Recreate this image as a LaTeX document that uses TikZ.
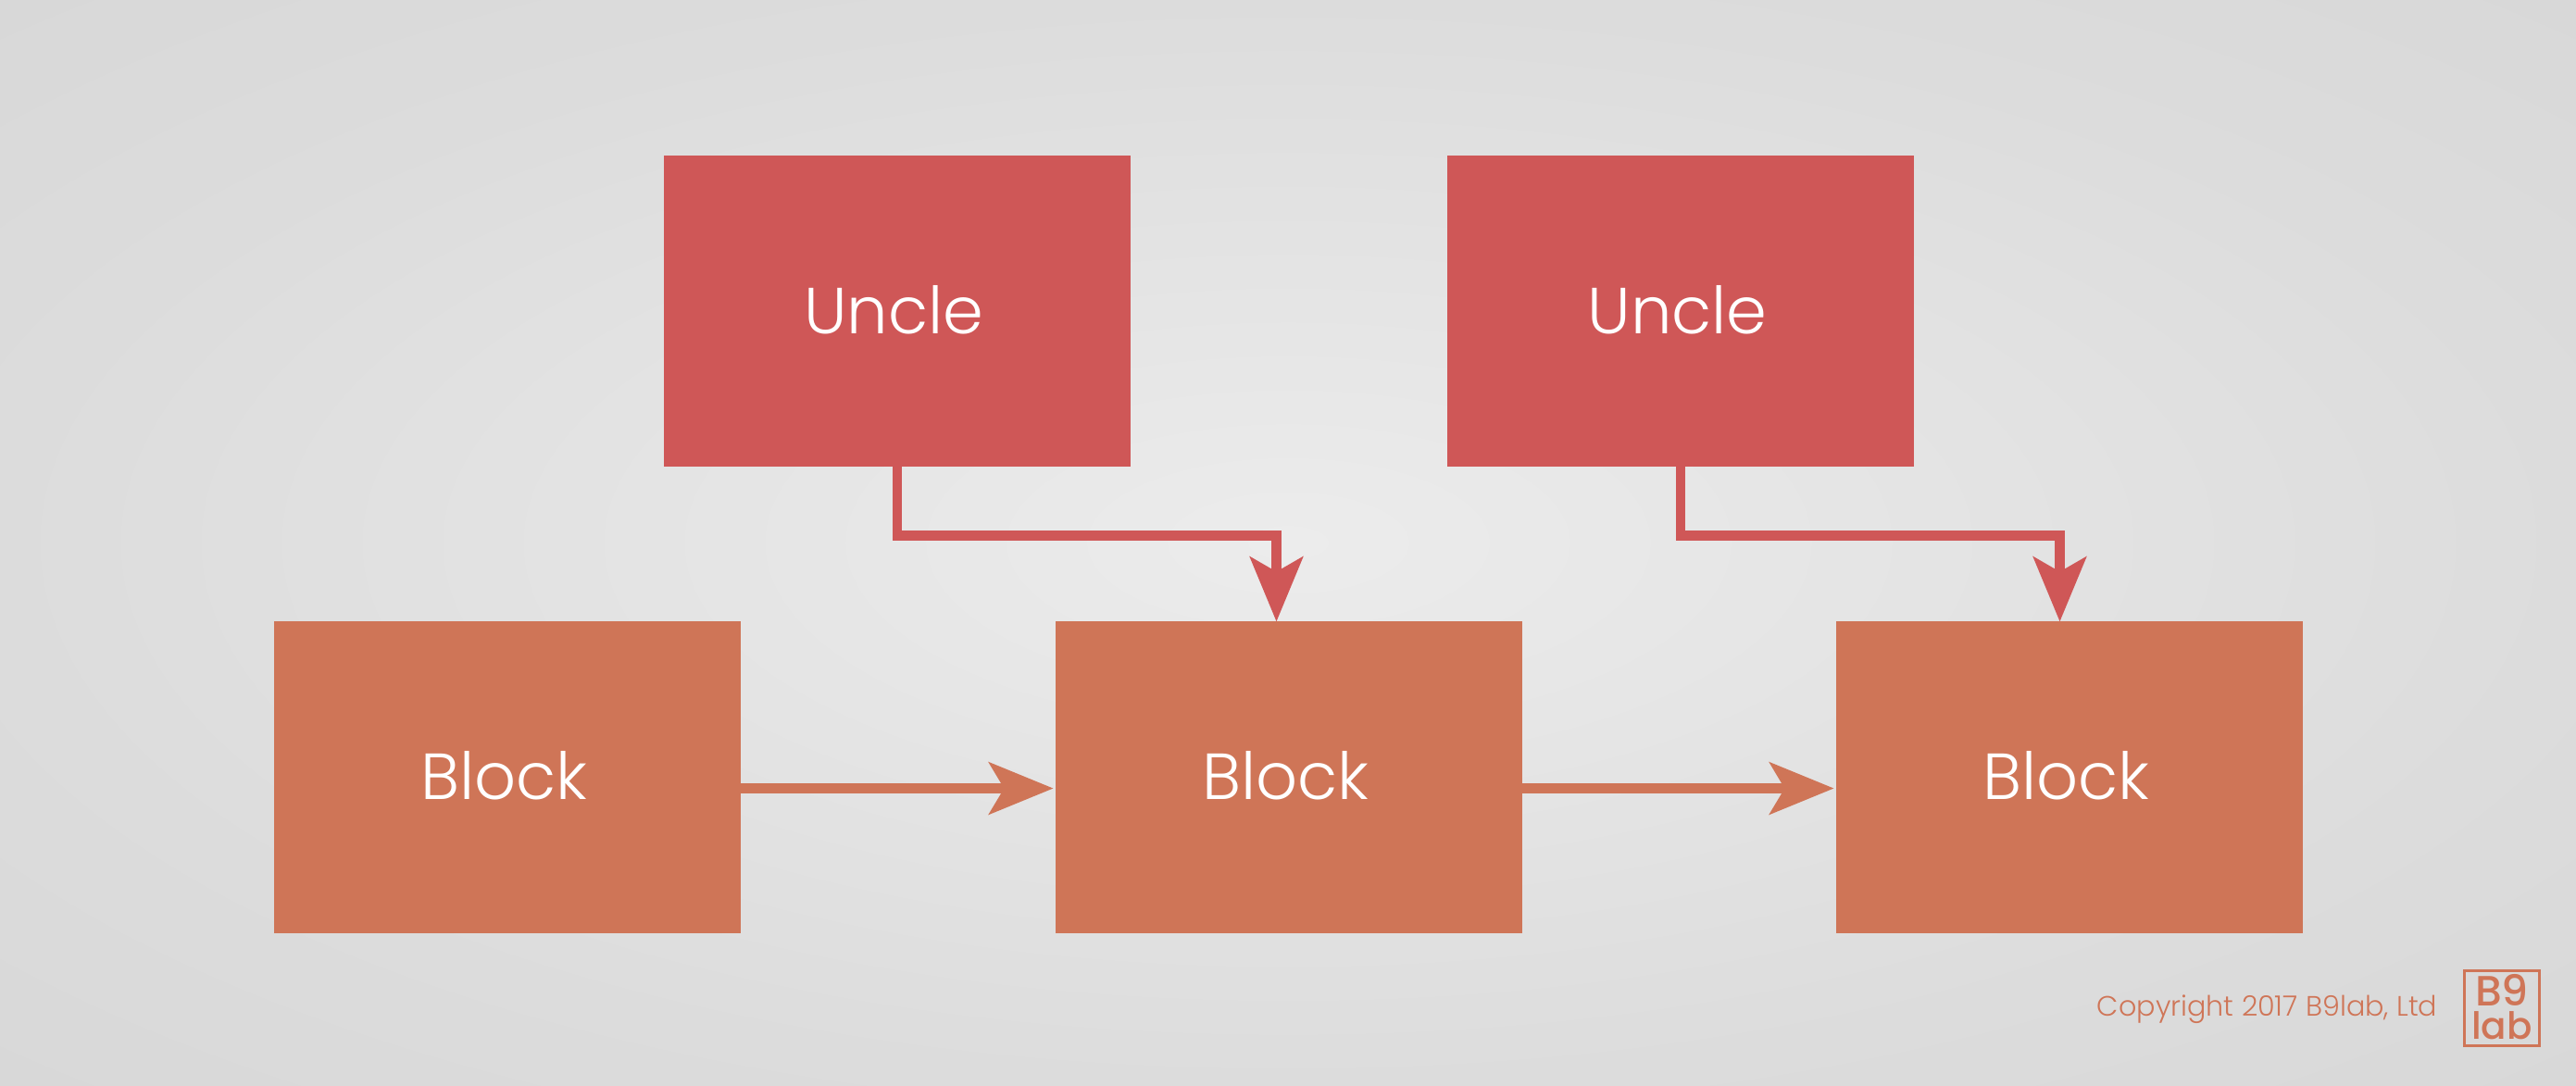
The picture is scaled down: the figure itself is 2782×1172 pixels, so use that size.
\documentclass[tikz,border=0pt]{standalone}
\usepackage{fontspec}
\setmainfont{Poppins Light}
\newfontfamily\boxfont{Poppins Light}
\newfontfamily\logofont{Poppins Medium}
\usetikzlibrary{arrows.meta}
\definecolor{uncleRed}{HTML}{CF5757}
\definecolor{blockOrange}{HTML}{CF7557}
\definecolor{bgCentre}{HTML}{ECECEC}
\definecolor{bgMid}{HTML}{E4E4E4}
\definecolor{bgOuter}{HTML}{DCDCDC}
\definecolor{bgEdge}{HTML}{D8D8D8}
\pgfdeclareradialshading{bgglow}{\pgfpoint{0bp}{0bp}}{
  color(0bp)=(bgCentre); color(12.5bp)=(bgMid); color(25bp)=(bgOuter); color(35.4bp)=(bgEdge); color(50bp)=(bgEdge)}
\tikzset{
  x=0.01cm,y=-0.01cm,
  box/.style={rectangle,minimum width=5.04cm,minimum height=3.36cm,inner sep=0pt,outer sep=0pt,text=white,font=\boxfont\fontsize{20}{24}\selectfont},
  unclebox/.style={box,fill=uncleRed},
  blockbox/.style={box,fill=blockOrange},
  link/.style={line width=2.9pt},
  unclelink/.style={link,draw=uncleRed,-{Stealth[length=0.698cm,width=0.57cm,inset=0.16cm]}},
  blocklink/.style={link,draw=blockOrange,-{Stealth[length=0.694cm,width=0.56cm,inset=0.163cm]},shorten >=0.023cm},
}
\begin{document}
\begin{tikzpicture}
\useasboundingbox (0,0) rectangle (2782,1172);
\shade[shading=bgglow] (0,0) rectangle (2782,1172);
\node[unclebox] (u1) at (969,336) {\raisebox{1pt}{\hspace*{-2pt}Uncle}};
\node[unclebox] (u2) at (1815,336) {\raisebox{1pt}{\hspace*{-2pt}Uncle}};
\node[blockbox] (b1) at (548,839.5) {\raisebox{1pt}{\hspace*{-2pt}Block}};
\node[blockbox] (b2) at (1392,839.5) {\raisebox{1pt}{\hspace*{-2pt}Block}};
\node[blockbox] (b3) at (2235,839.5) {\raisebox{1pt}{\hspace*{-2pt}Block}};
\coordinate (e1) at (1378.5,578.5);
\coordinate (e2) at (2224.5,578.5);
\draw[unclelink] (u1.south) |- (e1) -- (e1 |- b2.north);
\draw[unclelink] (u2.south) |- (e2) -- (e2 |- b3.north);
\draw[blocklink] ([yshift=-0.12cm]b1.east) -- ([yshift=-0.12cm]b2.west);
\draw[blocklink] ([yshift=-0.12cm]b2.east) -- ([yshift=-0.12cm]b3.west);
\node[anchor=base east,inner sep=0pt,text=blockOrange,font=\fontsize{8.6}{10}\selectfont] (copy) at (2633,1097) {Copyright 2017 B9lab, Ltd};
\node[draw=blockOrange,line width=0.9pt,minimum size=0.81cm,inner sep=0pt] (logo) at (2702,1089) {};
\node[anchor=base,inner sep=0pt,text=blockOrange,font=\logofont\fontsize{13}{13}\selectfont] (logoa) at (2702,1086) {B9};
\node[anchor=base,inner sep=0pt,text=blockOrange,font=\logofont\fontsize{11.5}{11.5}\selectfont] (logob) at (2702,1122) {lab};
\end{tikzpicture}
\end{document}
